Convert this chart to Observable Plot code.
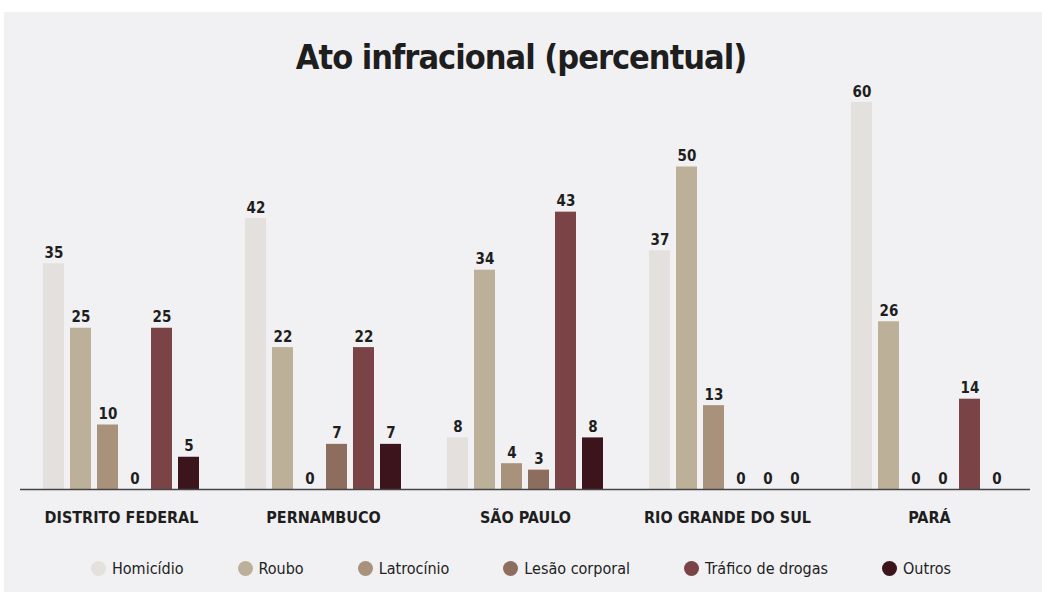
<!DOCTYPE html>
<html><head><meta charset="utf-8">
<script src="https://cdn.jsdelivr.net/npm/d3@7"></script>
<script src="https://cdn.jsdelivr.net/npm/@observablehq/plot@0.6"></script>
<style>
body{margin:0;background:#fff;}
#panel{position:absolute;left:4px;top:12px;width:1038px;height:580px;background:#f1f1f3;}
.cf{font-family:"DejaVu Sans Condensed","Liberation Sans Narrow","Roboto Condensed","Roboto",sans-serif;font-stretch:condensed;}
#title{position:absolute;left:0;top:37px;width:1042px;text-align:center;font-size:34px;font-weight:bold;color:#1e1e1e;letter-spacing:-1px}
#chart{position:absolute;left:0;top:65px;}
#legend{position:absolute;left:0;top:559px;width:1042px;display:flex;justify-content:center;gap:54px;font-size:16px;color:#222;}
#legend span.i{display:flex;align-items:center;gap:6px}
#legend span.d{width:15px;height:15px;border-radius:50%;display:inline-block}
</style></head>
<body>
<div id="panel"></div>
<div id="title" class="cf">Ato infracional (percentual)</div>
<div id="chart"></div>
<div id="legend" class="cf"></div>
<script>
const states = ["DISTRITO FEDERAL","PERNAMBUCO","SÃO PAULO","RIO GRANDE DO SUL","PARÁ"];
const crimes = ["Homicídio","Roubo","Latrocínio","Lesão corporal","Tráfico de drogas","Outros"];
const colors = ["#e3e0de","#bdb098","#a8927c","#8d6d5d","#7a4446","#3c141b"];
const homicidio = [35,42,8,37,60];
const roubo = [25,22,34,50,26];
const latrocinio = [10,0,4,13,0];
const lesao = [0,7,3,0,0];
const trafico = [25,22,43,0,14];
const outros = [5,7,8,0,0];
const series = [homicidio,roubo,latrocinio,lesao,trafico,outros];

const data = [];
states.forEach((s,i)=>crimes.forEach((c,j)=>data.push({state:s,crime:c,value:series[j][i]})));

const font = '"DejaVu Sans Condensed","Liberation Sans Narrow","Roboto Condensed",Roboto,sans-serif';
const chart = Plot.plot({
  width:1042, height:474,
  marginLeft:20, marginRight:12, marginTop:37, marginBottom:50,
  style:{background:"transparent", fontFamily:font},
  fx:{domain:states, padding:0, label:null},
  x:{domain:crimes, axis:null, paddingInner:0.22, paddingOuter:0.84},
  y:{domain:[0,60], axis:null},
  color:{domain:crimes, range:colors},
  marks:[
    Plot.barY(data,{fx:"state", x:"crime", y:"value", fill:"crime"}),
    Plot.text(data,{fx:"state", x:"crime", y:"value", text:d=>String(d.value), lineAnchor:"bottom", dy:-6, fontSize:15, fontWeight:"bold", fill:"#1e1e1e"}),
    Plot.ruleY([0],{stroke:"#444", strokeWidth:1.5}),
    Plot.axisFx({anchor:"bottom", tickSize:0, tickPadding:22, label:null, fontSize:16, fontWeight:"bold", fill:"#1e1e1e"})
  ]
});
document.getElementById("chart").appendChild(chart);

const lg = document.getElementById("legend");
crimes.forEach((c,j)=>{
  const it = document.createElement("span"); it.className="i";
  const d = document.createElement("span"); d.className="d"; d.style.background=colors[j];
  it.appendChild(d); it.appendChild(document.createTextNode(c));
  lg.appendChild(it);
});
</script>
</body></html>
